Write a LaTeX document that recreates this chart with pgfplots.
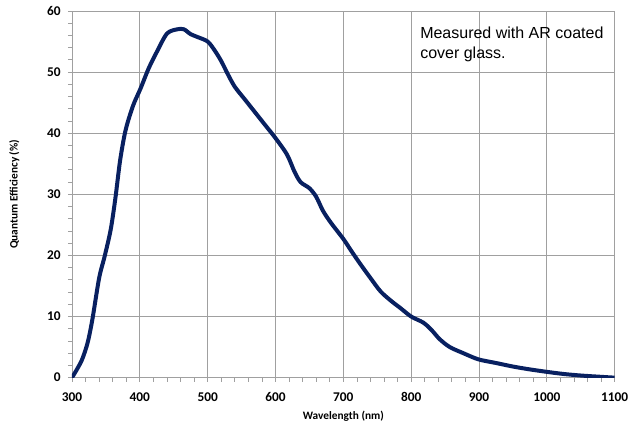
\documentclass[border=0pt]{standalone}
\usepackage{pgfplots}
\pgfplotsset{compat=1.18}
\usepackage{fontspec}
\setmainfont{Carlito}
\newfontfamily\arialfont{Liberation Sans}
\definecolor{qeblue}{RGB}{8,32,96}
\definecolor{gridgray}{RGB}{160,160,160}
\begin{document}
\begin{tikzpicture}[x=1pt,y=1pt]
\begin{axis}[
    scale only axis,
    width=407pt,
    height=275pt,
    xmin=300, xmax=1100,
    ymin=0, ymax=60,
    xtick={300,400,...,1100},
    ytick={0,10,...,60},
    minor x tick num=4,
    minor y tick num=4,
    grid=major,
    major grid style={gridgray, line width=0.6pt},
    axis line style={gridgray, line width=0.6pt},
    tick style={gridgray, line width=0.6pt},
    major tick length=3pt,
    minor tick length=3pt,
    tick align=outside,
    minor tick style={/pgfplots/tick align=inside},
    xtick pos=left, ytick pos=left,
    /pgf/number format/assume math mode=true,
    /pgf/number format/1000 sep={},
    ticklabel style={font=\bfseries\fontsize{10}{12}\selectfont, text=black},
    yticklabel style={xshift=-2pt},
    xticklabel style={yshift=-4.5pt},
    xlabel={Wavelength (nm)},
    ylabel={Quantum Efficiency (\%)},
    label style={font=\bfseries\fontsize{8.5}{10}\selectfont},
    xlabel style={yshift=-0.5pt},
    ylabel style={yshift=14pt},
]
\addplot [qeblue, line width=3pt, smooth, tension=0.5] coordinates {
(300,0) (308,1.5) (315,3.0) (323,5.7) (330,9.5) (340,16.3) (348,19.8)
(357,24.2) (364,29.4) (371,35.6) (379,40.5) (390,44.5) (401,47.3)
(413,50.6) (425,53.3) (440,56.3) (455,57.0) (465,57.0) (475,56.2)
(486,55.7) (500,55.0) (510,53.6) (520,51.8) (530,49.6) (540,47.6)
(555,45.5) (570,43.4) (585,41.3) (600,39.2) (617,36.5) (628,33.7)
(637,32.0) (650,31.0) (660,29.6) (670,27.3) (682,25.3) (700,22.7)
(712,20.7) (725,18.6) (740,16.3) (755,14.1) (770,12.6) (784,11.4)
(800,10.0) (818,9.0) (830,7.8) (842,6.3) (857,5.0) (877,4.0) (899,3.0)
(925,2.4) (951,1.8) (975,1.35) (1000,0.95) (1025,0.6) (1050,0.35)
(1075,0.17) (1100,0)
};
\node [anchor=north west, align=left, font=\arialfont\fontsize{12}{14.6}\selectfont, inner sep=0pt]
    at (axis cs:813,57.4) {Measured with AR coated\\cover glass.};
\end{axis}
\pgfresetboundingbox
\path ([shift={(-54pt,-35.8pt)}]current axis.south west)
    rectangle ([shift={(10.75pt,8.25pt)}]current axis.north east);
\end{tikzpicture}
\end{document}
